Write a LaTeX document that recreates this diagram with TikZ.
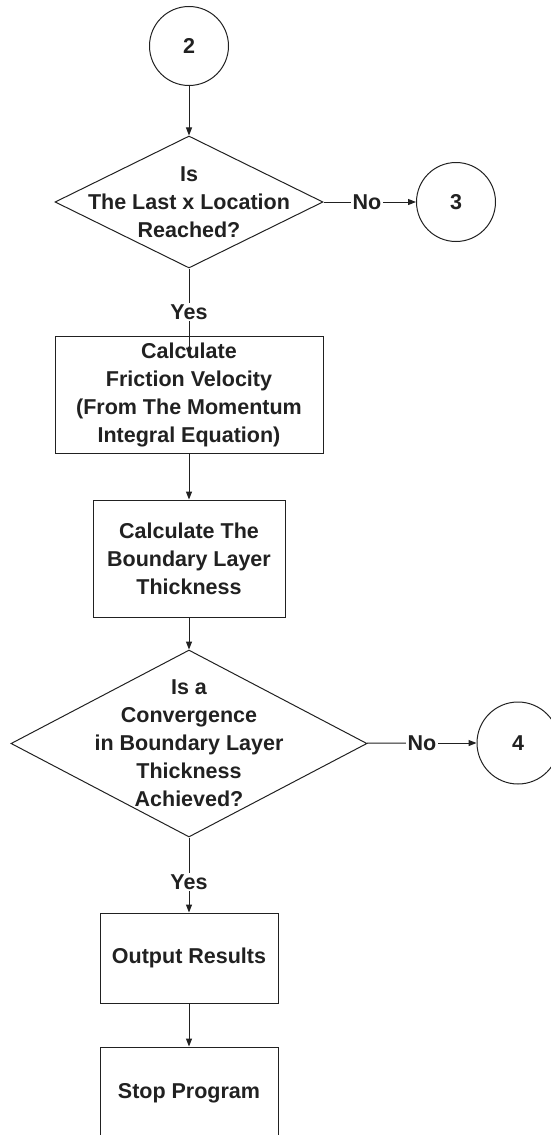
\documentclass[tikz,border=0pt]{standalone}
\usepackage{fontspec}
\setmainfont{Liberation Sans}
\usetikzlibrary{shapes.geometric,arrows.meta}
\definecolor{ink}{gray}{0.13}

\begin{document}
\begin{tikzpicture}[x=1pt,y=-1pt,
    every node/.style={font=\fontsize{21.5}{28}\selectfont\bfseries,text=ink},
    link/.style={circle,draw=ink,line width=1pt,minimum size=79pt,inner sep=0pt},
    process/.style={rectangle,draw=ink,line width=1pt,align=center,inner sep=0pt},
    decision/.style={diamond,draw=ink,line width=1pt,inner sep=0pt},
    question/.style={align=center},
    answer/.style={inner sep=1.5pt}]
  \useasboundingbox (0,0) rectangle (550,1135);
  \draw
    (189,46) node[link] (c2){2}
    (189,202) node[decision,minimum width=268pt,minimum height=132pt,
      label={[question]center:Is\\The Last x Location\\Reached?}] (q1){}
    (367,202) node[answer] (no1){No}
    (456,202) node[link] (c3){3}
    (189,312) node[answer] (yes1){Yes}
    (189,394.5) node[process,minimum width=268pt,minimum height=117pt] (fric)
      {Calculate\\Friction Velocity\\(From The Momentum\\Integral Equation)}
    (189,558.5) node[process,minimum width=192pt,minimum height=117pt] (layer)
      {Calculate The\\Boundary Layer\\Thickness}
    (189,743.5) node[decision,minimum width=356pt,minimum height=187pt,
      label={[question]center:Is a\\Convergence\\in Boundary Layer\\Thickness\\Achieved?}] (q2){}
    (422,743) node[answer] (no2){No}
    (518,743) node[link,minimum size=82pt] (c4){4}
    (189,882) node[answer] (yes2){Yes}
    (189,958) node[process,minimum width=178pt,minimum height=90pt] (out){Output Results}
    (189,1093) node[process,minimum width=178pt,minimum height=92pt] (stop){Stop Program};
  \begin{scope}[-{Triangle[length=8pt,width=6pt]},line width=1pt,draw=ink]
    \draw (c2) to (q1);
    \draw[-] (q1) to (no1);
    \draw (no1) to (c3);
    \draw[-] (q1) to (yes1);
    \draw (yes1) to ([yshift=-20pt]fric.north);
    \draw (fric) to (layer);
    \draw (layer) to (q2);
    \draw[-] (q2) to (no2);
    \draw (no2) to (c4);
    \draw[-] (q2) to (yes2);
    \draw (yes2) to (out);
    \draw (out) to (stop);
  \end{scope}
\end{tikzpicture}
\end{document}
